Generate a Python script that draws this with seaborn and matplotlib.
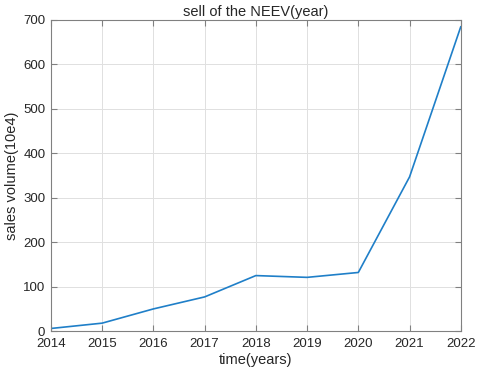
import matplotlib
matplotlib.use("Agg")
import matplotlib.pyplot as plt
import seaborn as sns
import pandas as pd

years = [2014, 2015, 2016, 2017, 2018, 2019, 2020, 2021, 2022]
sales = [6, 18, 50, 77, 125, 121, 132, 347, 685]

sns.set_theme(style="whitegrid")
plt.rcParams['font.family'] = ['Liberation Sans', 'DejaVu Sans']

df = pd.DataFrame({"year": years, "sales": sales})

fig = plt.figure(figsize=(4.8, 3.7), dpi=100)
ax = fig.add_axes([0.106, 0.105, 0.854, 0.841])
sns.lineplot(data=df, x="year", y="sales", ax=ax, color="#1f7fc8", linewidth=1.2)

ax.set_xlim(2014, 2022)
ax.set_ylim(0, 700)
ax.set_xticks(years)
ax.set_yticks(range(0, 701, 100))
ax.set_xlabel("time(years)", fontsize=10.5, color="#262626", labelpad=2)
ax.set_ylabel("sales volume(10e4)", fontsize=10.5, color="#262626", labelpad=3)
ax.set_title("sell of the NEEV(year)", fontsize=10.5, color="#262626", pad=3)
ax.set_facecolor("white")
ax.grid(True, color="#e0e0e0", linewidth=0.7)
for s in ax.spines.values():
    s.set_visible(True)
    s.set_color("#808080")
    s.set_linewidth(0.8)
ax.tick_params(axis='both', which='both', direction='in', length=4, width=0.8,
               colors="#808080", labelcolor="#262626", labelsize=9.5,
               top=True, right=True, bottom=True, left=True)
ax.tick_params(axis='x', pad=5)
ax.tick_params(axis='y', pad=4)

fig.savefig("out.png", dpi=100, facecolor="white")
